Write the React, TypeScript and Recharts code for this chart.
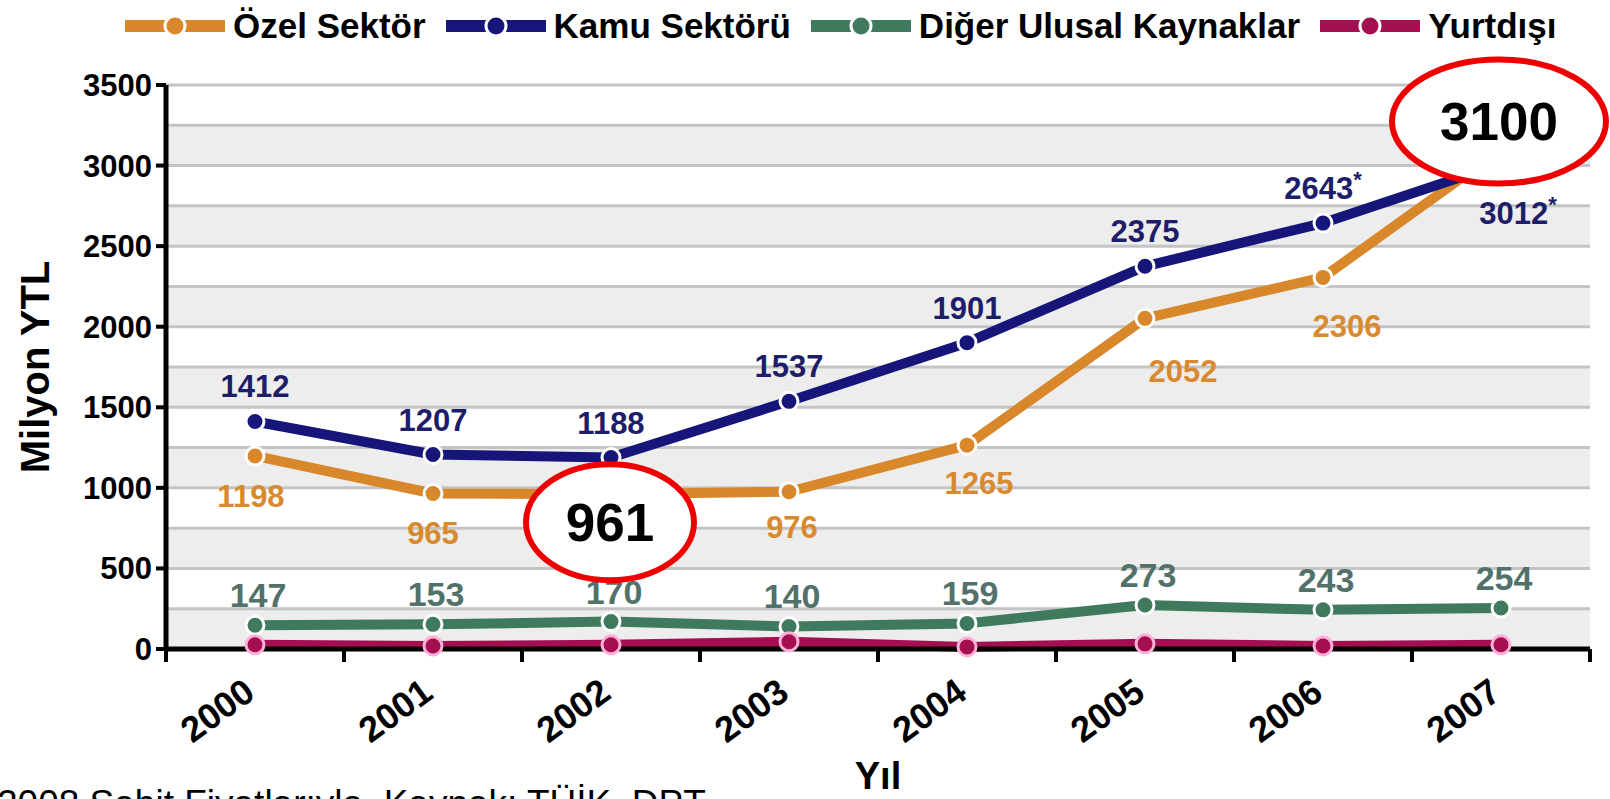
import React from "react";
import {
  CartesianGrid,
  LabelList,
  Label,
  Legend,
  Line,
  LineChart,
  ReferenceDot,
  XAxis,
  YAxis,
} from "recharts";

const YEARS = ["2000", "2001", "2002", "2003", "2004", "2005", "2006", "2007"];
const OZEL = [1198, 965, 961, 976, 1265, 2052, 2306, 3100];
const KAMU = [1412, 1207, 1188, 1537, 1901, 2375, 2643, 3012];
const DIGER = [147, 153, 170, 140, 159, 273, 243, 254];
const YURTDISI = [26, 19, 26, 45, 13, 32, 19, 26];
const Y_TICKS = [0, 500, 1000, 1500, 2000, 2500, 3000, 3500];
const GRID_VALUES = [0, 250, 500, 750, 1000, 1250, 1500, 1750, 2000, 2250, 2500, 2750, 3000, 3250, 3500];
const STARRED = ["2006", "2007"]; // Kamu values marked with *
const CIRCLED = ["2002", "2007"]; // Özel values circled in red

const FONT = "'Liberation Sans', Arial, sans-serif";
const W = 1610;
const H = 799;
const AXIS_W = 166;
const RIGHT = 20;
const BAND = (W - AXIS_W - RIGHT) / YEARS.length;

const ORANGE = "#d8872b";
const NAVY = "#16167a";
const GREEN = "#3f7a5e";
const CRIMSON = "#a30f50";

const SERIES = [
  { key: "ozel", name: "Özel Sektör", color: ORANGE },
  { key: "kamu", name: "Kamu Sektörü", color: NAVY },
  { key: "diger", name: "Diğer Ulusal Kaynaklar", color: GREEN },
  { key: "yurtdisi", name: "Yurtdışı", color: CRIMSON },
];

const data = YEARS.map((year, i) => ({
  year,
  ozel: OZEL[i],
  kamu: KAMU[i],
  diger: DIGER[i],
  yurtdisi: YURTDISI[i],
}));

// small nudges so labels clear the steep part of the orange line
const OZEL_NUDGE: Record<number, [number, number]> = {
  0: [-4, 40],
  1: [0, 40],
  3: [3, 35],
  4: [12, 38],
  5: [38, 53],
  6: [24, 49],
};

function YearTick(props: any) {
  const { x, y, payload, index } = props;
  const half = BAND / 2;
  const tx = x + 2;
  const ty = y + 48;
  return (
    <g>
      <line x1={x - half} x2={x - half} y1={y} y2={y + 13} stroke="#000" strokeWidth={4} />
      {index === YEARS.length - 1 && (
        <line x1={x + half} x2={x + half} y1={y} y2={y + 13} stroke="#000" strokeWidth={4} />
      )}
      <text
        x={tx}
        y={ty}
        transform={`rotate(-36, ${tx}, ${ty})`}
        textAnchor="end"
        fontFamily={FONT}
        fontWeight={700}
        fontSize={36}
        fill="#000"
      >
        {payload.value}
      </text>
    </g>
  );
}

function pos(props: any) {
  const vb = props.viewBox || {};
  return { x: props.x ?? vb.x, y: props.y ?? vb.y };
}

function OzelLabel(props: any) {
  const { value, index } = props;
  if (CIRCLED.includes(YEARS[index])) return null;
  const { x, y } = pos(props);
  const [dx, dy] = OZEL_NUDGE[index] || [0, 40];
  return (
    <text x={x + dx} y={y + dy + 11} textAnchor="middle" fill="#d98a2e" fontFamily={FONT} fontWeight={700} fontSize={31}>
      {value}
    </text>
  );
}

function KamuLabel(props: any) {
  const { value, index } = props;
  const { x, y } = pos(props);
  const last = index === YEARS.length - 1;
  const star = STARRED.includes(YEARS[index]);
  return (
    <text
      x={last ? x + 17 : x}
      y={last ? y + 60 : y - 24}
      textAnchor="middle"
      fill="#1d1d69"
      fontFamily={FONT}
      fontWeight={700}
      fontSize={31}
    >
      {value}
      {star && (
        <tspan dy={-12} fontSize={22}>
          *
        </tspan>
      )}
    </text>
  );
}

function DigerLabel(props: any) {
  const { value } = props;
  const { x, y } = pos(props);
  return (
    <text x={x + 3} y={y - 30 + 12} textAnchor="middle" fill="#51716a" fontFamily={FONT} fontWeight={700} fontSize={34}>
      {value}
    </text>
  );
}

function Circled(props: any) {
  const { cx, cy, value, up } = props;
  const ex = up ? cx - 2 : cx - 1;
  const ey = up ? cy - 28 : cy + 28;
  const rx = up ? 107 : 84;
  const ry = up ? 62 : 58;
  return (
    <g>
      <ellipse cx={ex} cy={ey} rx={rx} ry={ry} fill="#fff" stroke="#ee0000" strokeWidth={6} />
      <text x={ex} y={ey + 19} textAnchor="middle" fill="#000" fontFamily={FONT} fontWeight={700} fontSize={53}>
        {value}
      </text>
    </g>
  );
}

function LegendContent(props: any) {
  const payload: any[] = props.payload || [];
  const items = SERIES.map((s) => payload.find((p) => p.dataKey === s.key) || { value: s.name, color: s.color });
  return (
    <div style={{ display: "flex", alignItems: "center", height: 52, fontFamily: FONT }}>
      {items.map((it, i) => (
        <div key={i} style={{ display: "flex", alignItems: "center", marginRight: 20 }}>
          <svg width={100} height={26} style={{ display: "block" }}>
            <rect x={0} y={7} width={100} height={12} fill={it.color} />
            <circle cx={50} cy={13} r={10} fill={it.color} stroke="#fff" strokeWidth={3} />
          </svg>
          <span style={{ marginLeft: 8, fontSize: 35, fontWeight: 700, color: "#000", lineHeight: "52px", whiteSpace: "nowrap" }}>
            {it.value}
          </span>
        </div>
      ))}
    </div>
  );
}

export default function App() {
  return (
    <div style={{ position: "absolute", left: 0, top: 0, width: W, height: H, overflow: "hidden", background: "#fff" }}>
      <LineChart width={W} height={H} data={data} margin={{ top: 85, right: RIGHT, left: 0, bottom: 0 }}>
        <CartesianGrid
          vertical={false}
          horizontalValues={GRID_VALUES}
          stroke="#c4c4c4"
          strokeWidth={3}
          horizontalFill={["#ffffff", "#ededed"]}
          fillOpacity={1}
        />
        <XAxis
          dataKey="year"
          interval={0}
          padding={{ left: BAND / 2, right: BAND / 2 }}
          height={H - 649}
          tickSize={0}
          tickMargin={0}
          tickLine={false}
          axisLine={{ stroke: "#000", strokeWidth: 5 }}
          tick={<YearTick />}
        >
          <Label
            value="Yıl"
            position="insideBottom"
            offset={10}
            style={{ fontFamily: FONT, fontWeight: 700, fontSize: 38, fill: "#000" }}
          />
        </XAxis>
        <YAxis
          width={AXIS_W}
          domain={[0, 3500]}
          ticks={Y_TICKS}
          interval={0}
          tickSize={10}
          tickMargin={4}
          tickLine={{ stroke: "#000", strokeWidth: 4 }}
          axisLine={{ stroke: "#000", strokeWidth: 5 }}
          tick={{ fill: "#000", fontFamily: FONT, fontWeight: 700, fontSize: 31 }}
        >
          <Label
            content={(p: any) => {
              const vb = p.viewBox || {};
              const cx = 35;
              const cy = vb.y + vb.height / 2;
              return (
                <text
                  x={cx}
                  y={cy}
                  transform={`rotate(-90, ${cx}, ${cy})`}
                  textAnchor="middle"
                  dominantBaseline="central"
                  fontFamily={FONT}
                  fontWeight={700}
                  fontSize={40}
                  fill="#000"
                >
                  Milyon YTL
                </text>
              );
            }}
          />
        </YAxis>
        <Legend
          verticalAlign="middle"
          align="center"
          layout="horizontal"
          wrapperStyle={{ top: 0, left: 125, width: 1480, height: 52 }}
          content={<LegendContent />}
        />
        <Line
          dataKey="ozel"
          name="Özel Sektör"
          type="linear"
          stroke={ORANGE}
          strokeWidth={10}
          strokeLinejoin="round"
          dot={{ r: 9, fill: ORANGE, stroke: "#fff", strokeWidth: 3 }}
          activeDot={false}
          isAnimationActive={false}
        >
          <LabelList dataKey="ozel" content={<OzelLabel />} />
        </Line>
        <Line
          dataKey="kamu"
          name="Kamu Sektörü"
          type="linear"
          stroke={NAVY}
          strokeWidth={10}
          strokeLinejoin="round"
          dot={{ r: 9, fill: NAVY, stroke: "#fff", strokeWidth: 3 }}
          activeDot={false}
          isAnimationActive={false}
        >
          <LabelList dataKey="kamu" content={<KamuLabel />} />
        </Line>
        <Line
          dataKey="diger"
          name="Diğer Ulusal Kaynaklar"
          type="linear"
          stroke={GREEN}
          strokeWidth={10}
          strokeLinejoin="round"
          dot={{ r: 9, fill: GREEN, stroke: "#fff", strokeWidth: 3 }}
          activeDot={false}
          isAnimationActive={false}
        >
          <LabelList dataKey="diger" content={<DigerLabel />} />
        </Line>
        <Line
          dataKey="yurtdisi"
          name="Yurtdışı"
          type="linear"
          stroke={CRIMSON}
          strokeWidth={10}
          strokeLinejoin="round"
          dot={{ r: 9, fill: CRIMSON, stroke: "#ffb0d8", strokeWidth: 3 }}
          activeDot={false}
          isAnimationActive={false}
        />
        {CIRCLED.map((year) => {
          const i = YEARS.indexOf(year);
          return (
            <ReferenceDot
              key={year}
              x={year}
              y={OZEL[i]}
              r={0}
              ifOverflow="visible"
              zIndex={5000}
              shape={(p: any) => <Circled {...p} value={OZEL[i]} up={i === YEARS.length - 1} />}
            />
          );
        })}
      </LineChart>
      <div
        style={{
          position: "absolute",
          left: -3,
          top: 785,
          fontFamily: FONT,
          fontSize: 37,
          lineHeight: "37px",
          whiteSpace: "nowrap",
          color: "#000",
        }}
      >
        2008 Sabit Fiyatlarıyla, Kaynak: TÜİK, DPT
      </div>
    </div>
  );
}
